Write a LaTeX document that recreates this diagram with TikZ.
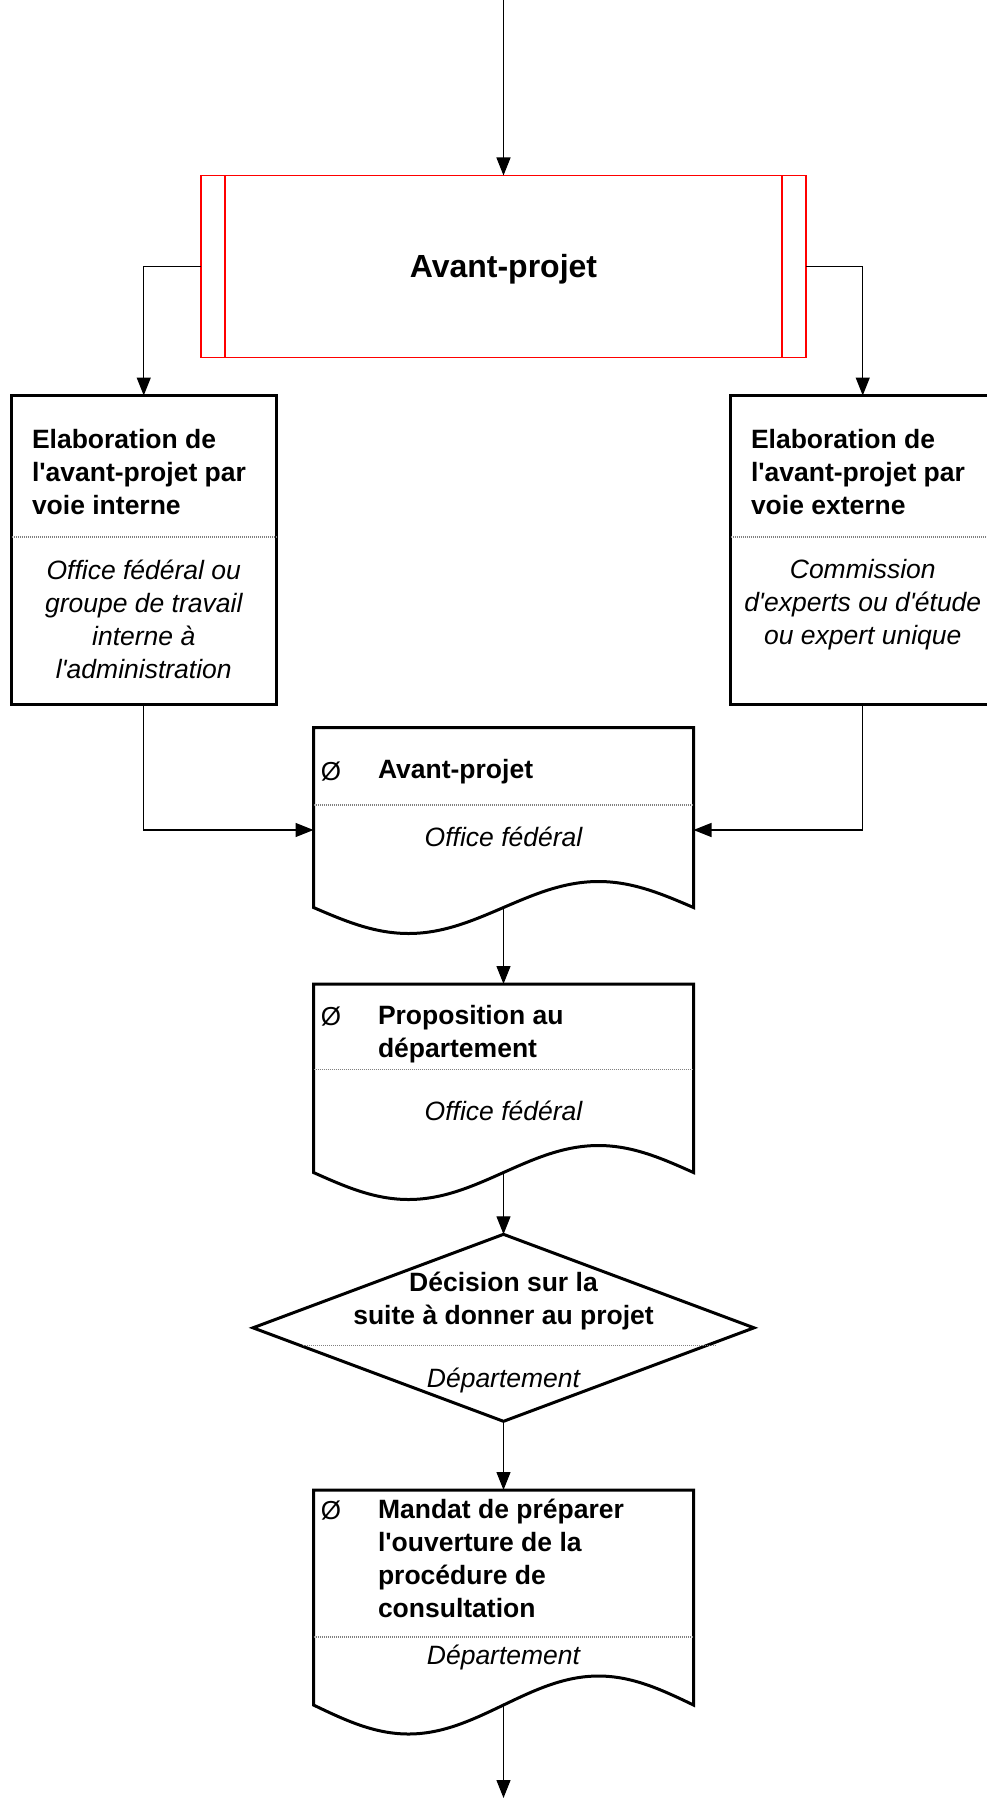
\documentclass[tikz,border=0pt]{standalone}
\usepackage{fontspec}
\setmainfont{Liberation Sans}[Ligatures=TeXOff]
\usetikzlibrary{arrows.meta,shapes.geometric,calc}

% document shape: straight top and sides, one full sine wave at the bottom
% #1 name, #2 top y, #3 y of the wave ends, #4 wave amplitude
\newcommand\flowdoc[4]{%
  \draw[docline] (313.5,#3) -- (313.5,#2) -- (693.5,#2) -- (693.5,#3)
    sin (598.5,#3-#4) cos (503.5,#3) sin (408.5,#3+#4) cos (313.5,#3) -- cycle;
  \coordinate (#1-top) at (503.5,#2);
  \coordinate (#1-bot) at (503.5,#3);
}

\begin{document}
\begin{tikzpicture}[x=1pt,y=-1pt,
  every node/.style={inner sep=0pt,outer sep=0pt},
  frame/.style={draw=black,line width=3pt,minimum width=264.5pt,minimum height=308.5pt,anchor=north west},
  docline/.style={draw=black,line width=3pt,line join=miter},
  redbox/.style={draw=red,line width=1.3pt,minimum width=605pt,minimum height=182pt},
  redline/.style={draw=red,line width=1.3pt},
  conn/.style={draw=black,line width=1.2pt,-{Triangle[length=18pt,width=14pt]}},
  divider/.style={draw=gray,line width=1.2pt,dash pattern=on 1pt off 1pt},
  head/.style={font=\fontsize{26.5}{33}\selectfont\bfseries,align=left},
  role/.style={font=\fontsize{26.5}{33}\selectfont\itshape,align=center},
  symb/.style={font=\fontsize{26}{32}\selectfont},
  bigtitle/.style={font=\fontsize{32}{38}\selectfont\bfseries}]

\useasboundingbox (0,0) rectangle (987,1798);
\clip (0,0) rectangle (987,1798);

% main stage
\node[redbox] (ap) at (503.5,266.5) {};
\node[bigtitle] (apt) at (503.5,269) {Avant-projet};
\draw[redline] ([xshift=24pt]ap.north west) -- ([xshift=24pt]ap.south west);
\draw[redline] ([xshift=-24pt]ap.north east) -- ([xshift=-24pt]ap.south east);

% the two ways of drafting
\node[frame] (lb) at (11.5,395.5) {};
\draw[divider] (11.5,537) -- (276,537);
\node[head,anchor=west] (lbh) at (32,472) {Elaboration de\\l'avant-projet par\\voie interne};
\node[role] (lbr) at (143.75,619) {Office fédéral ou\\groupe de travail\\interne à\\l'administration};

\node[frame] (rb) at (730.5,395.5) {};
\draw[divider] (730.5,537) -- (995,537);
\node[head,anchor=west] (rbh) at (751,472) {Elaboration de\\l'avant-projet par\\voie externe};
\node[role] (rbr) at (862.75,605) {Commission\\d'experts ou d'étude\\ou expert unique};

% first document
\flowdoc{d1}{727.5}{907.5}{26}
\coordinate (d1-w) at (313.5,830);
\coordinate (d1-e) at (693.5,830);
\draw[divider] (313.5,805) -- (693.5,805);
\node[symb] (d1s) at (331,772) {Ø};
\node[head,anchor=west] (d1h) at (378,772) {Avant-projet};
\node[role] (d1r) at (503.5,837) {Office fédéral};

% second document
\flowdoc{d2}{984}{1172.5}{27}
\draw[divider] (313.5,1069.5) -- (693.5,1069.5);
\node[symb] (d2s) at (331,1017) {Ø};
\node[head,anchor=west] (d2h) at (378,1034) {Proposition au\\département};
\node[role] (d2r) at (503.5,1111) {Office fédéral};

% decision
\node[draw=black,line width=3pt,diamond,minimum width=501pt,minimum height=187pt] (dm) at (503.5,1327.8) {};
\draw[divider] (303,1345.5) -- (717,1345.5);
\node[head,align=center] (dmh) at (503.5,1301) {Décision sur la\\suite à donner au projet};
\node[role] (dmr) at (503.5,1380) {Département};

% third document
\flowdoc{d3}{1490}{1705}{29}
\draw[divider] (313.5,1637) -- (693.5,1637);
\node[symb] (d3s) at (331,1511) {Ø};
\node[head,anchor=west] (d3h) at (378,1558) {Mandat de préparer\\l'ouverture de la\\procédure de\\consultation};
\node[role] (d3r) at (503.5,1657) {Département};

% connectors
\coordinate (start) at (503.5,0);
\coordinate (finish) at (503.5,1798);
\draw[conn] (start) -- (ap.north);
\draw[conn] (ap.west) -| (lb.north);
\draw[conn] (ap.east) -| (rb.north);
\draw[conn] (lb.south) |- (d1-w);
\draw[conn] (rb.south) |- (d1-e);
\draw[conn] (d1-bot) -- (d2-top);
\draw[conn] (d2-bot) -- (dm.north);
\draw[conn] (dm.south) -- (d3-top);
\draw[conn] (d3-bot) -- (finish);
\end{tikzpicture}
\end{document}
